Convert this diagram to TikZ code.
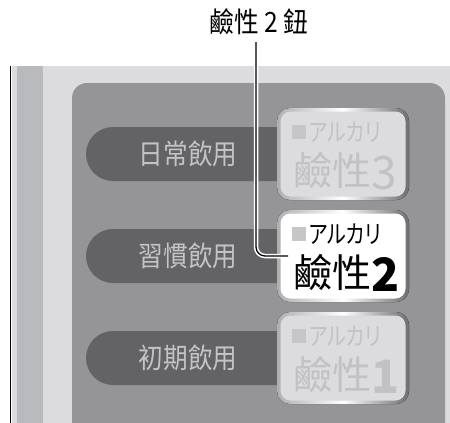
\documentclass[tikz,border=0pt]{standalone}
\usepackage{fontspec}
\setmainfont{Noto Sans CJK TC}
\newfontfamily\narrowcjk[FakeStretch=0.88]{Noto Sans CJK TC}
\newfontfamily\kanafont[FakeStretch=0.8,RawFeature=+palt]{Noto Sans CJK TC}
\usetikzlibrary{calc, positioning}
\definecolor{framebg}{HTML}{dcdcde}
\definecolor{stripgray}{HTML}{b9babd}
\definecolor{panelgray}{HTML}{959598}
\definecolor{pillgray}{HTML}{636365}
\definecolor{pilltext}{HTML}{c4c4c6}
\definecolor{faceoff}{HTML}{dcdcde}
\definecolor{textoff}{HTML}{c2c2c4}
\definecolor{rimdark}{HTML}{6e6e72}
\definecolor{marksq}{HTML}{c6c6c8}

\begin{document}
\begin{tikzpicture}[
    x=1pt, y=-1pt,
    title/.style={font=\narrowcjk\fontsize{28}{28}\selectfont, inner sep=2pt},
    pilllabel/.style={font=\narrowcjk\fontsize{28}{28}\selectfont, text=pilltext, inner sep=0pt},
    squaremark/.style={fill=marksq, minimum size=14pt, inner sep=0pt},
    kana/.style={font=\kanafont\fontsize{25}{25}\selectfont, inner sep=0pt},
    bigtext/.style={inner sep=0pt, anchor=west},
    leader/.style={line width=1.3pt, rounded corners=9pt,
                   preaction={draw=white, line width=4.5pt}},
]
\useasboundingbox (0,0) rectangle (450,423);

\def\bx{277}    % button left edge
\def\bw{132}    % button width
\def\bh{92}     % button height

% Helper: one selector button
\newcommand{\drawbutton}[5]{
    % #1 = name, #2 = top edge, #3 = face colour, #4 = text colour, #5 = digit
    \fill[rounded corners=13pt, left color=rimdark!55, right color=rimdark,
          middle color=white] (\bx,#2) rectangle (\bx+\bw,#2+\bh);
    \fill[#3, rounded corners=10pt] (\bx+3.5,#2+3.5) rectangle (\bx+\bw-3.5,#2+\bh-3.5);
    \node[squaremark] (#1-sq) at (299,#2+24) {};
    \node[kana, text=#4, right=3pt of #1-sq] (#1-kana) {アルカリ};
    \node[bigtext, text=#4] (#1-big) at (\bx+16,#2+63)
        {\fontsize{39}{39}\selectfont 鹼性\fontsize{46}{46}\selectfont\raisebox{-4pt}{#5}};
}

% ── Housing ──
\begin{scope}
    \clip (0,0) rectangle (450,423);
    \fill[framebg] (11.5,66) rectangle (450,423);
    \fill[stripgray] (17,66) rectangle (43,423);
    \draw[line width=1.5pt] (10.7,66) -- (10.7,423);
    \fill[panelgray, rounded corners=15pt] (72,83) rectangle (445,450);

    % mode pills
    \foreach \yc/\name/\txt in {154/p1/日常飲用, 256/p2/習慣飲用, 358/p3/初期飲用} {
        \fill[pillgray, rounded corners=27pt] (86,\yc-27) rectangle (340,\yc+27);
        \node[pilllabel] (\name) at (188,\yc) {\txt};
    }
\end{scope}

% ── Buttons ──
\drawbutton{b3}{108}{faceoff}{textoff}{3}
\drawbutton{b2}{210}{white}{black}{\bfseries 2}
\drawbutton{b1}{312}{faceoff}{textoff}{\bfseries 1}

% ── Callout ──
\node[title] (callout) at (259,22) {鹼性 2 鈕};
\coordinate (lead-end) at (288,256);
\draw[leader] ([xshift=-3pt, yshift=-5pt]callout.south) |- (lead-end);

\end{tikzpicture}
\end{document}
